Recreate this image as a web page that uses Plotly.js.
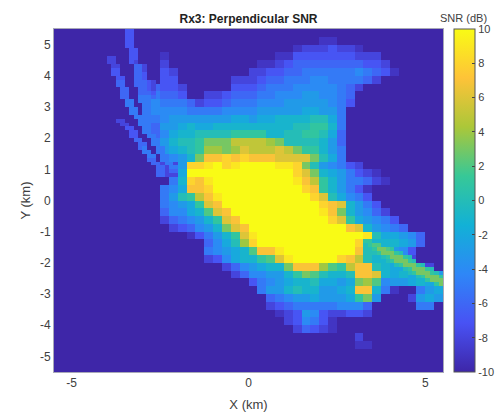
<!DOCTYPE html>
<html><head><meta charset="utf-8">
<script src="https://cdn.plot.ly/plotly-3.0.1.min.js"></script>
<style>html,body{margin:0;padding:0;background:#fff}</style></head>
<body><div id="g" style="width:500px;height:416px"></div>
<script>
const gridStep = 0.125, gridMin = -5.5, gridCount = 88, floorSNR = -10;
// Coarse blocks (2x2 fine cells): [row from top, first column, SNR values in dB]
const blockPatches = [
[1,30,[-9,-9]],
[2,27,[-9,-8,-8,-8,-7,-8,-8,-9]],
[3,12,[-9]],[3,25,[-9,-9,-7,-7,-7,-7,-7,-7,-7,-8,-8,-8]],
[4,12,[-8]],[4,23,[-9,-9,-8,-7,-6,-6,-6,-6,-6,-6,-6,-6,-7,-7,-8]],
[5,12,[-7,-8]],[5,22,[-8,-8,-7,-7,-6,-6,-5,-5,-5,-5,-5,-5,-4,-5,-6,-7,-9]],
[6,12,[-7,-7]],[6,20,[-8,-8,-8,-7,-6,-6,-5,-5,-5,-4,-4,-5,-5,-5,-5,-6,-8]],
[7,11,[-6,-7,-7,-8]],[7,20,[-7,-7,-7,-6,-5,-5,-5,-4,-4,-4,-4,-4,-5,-6,-8]],
[8,10,[-5,-5,-6,-6,-7]],[8,17,[-8,-8,-7,-6,-6,-6,-5,-5,-4,-4,-4,-3,-3,-4,-4,-5,-6]],
[9,10,[-5,-4,-5,-5,-5,-6,-8,-7,-7,-6,-5,-5,-5,-4,-4,-4,-3,-3,-3,-3,-3,-4,-5,-7]],
[10,11,[-4,-4,-4,-4,-5,-5,-5,-5,-4,-4,-4,-4,-3,-3,-3,-3,-3,-2,-2,-3,-3,-5]],
[11,11,[-5,-4,-3,-3,-3,-3,-3,-3,-3,-2,-2,-3,-2,-2,-1,-1,-1,-1,0,0,-2,-5]],
[12,11,[-6,-3,-3,-2,-1,-2,-2,-1,-1,-1,-1,-1,-1,-1,-1,-1,0,0,1,1,-1,-5]],
[13,11,[-6,-4,-2,-1,-1,0,0,0,0,1,1,1,1,-1,-1,0,0,1,1,0,-2,-6]],
[14,11,[-4,-3,-1,0,0,1,3,3,3,5,5,5,5,4,3,0,0,0,0,-1,-3,-6]],
[15,12,[-3,-2,-1,0,1,4,4,3,4,6,5,5,5,6,5,3,1,1,-1,-3,-5]],
[16,13,[-4,-3,-1,3,7,7,8,7,8,7,7,7,6,6,6,6,3,0,-2,-5]],
[17,12,[-8,-8,-3,8,8,9,10,8,9,10,10,10,10,9,9,8,3,0,-3,-4,-5,-7,-8]],
[18,12,[-8,-8,-2,10,10,10,10,10,10,10,10,10,10,10,10,8,6,3,-1,-2,-3,-5,-7,-8,-9]],
[19,13,[-5,-1,8,7,9,10,10,10,10,10,10,10,10,10,9,7,5,1,-1,-3,-5,-5,-6,-8,-9]],
[20,12,[-5,-4,-2,7,7,8,10,10,10,10,10,10,10,10,10,10,8,7,1,-1,-3,-5,-7,-9]],
[21,12,[-5,-3,0,1,5,7,9,10,10,10,10,10,10,10,10,10,10,8,6,0,-2,-4,-5,-7]],
[22,12,[-5,-4,-3,-2,1,6,7,10,10,10,10,10,10,10,10,10,10,10,8,7,6,-1,-3,-5,-7]],
[23,12,[-6,-4,-4,-2,-1,2,6,7,10,10,10,10,10,10,10,10,10,10,9,7,3,-1,-3,-4,-6,-8]],
[24,12,[-8,-6,-5,-4,-3,-1,1,6,7,10,10,10,10,10,10,10,10,10,10,8,6,1,-2,-3,-4,-5,-7]],
[25,13,[-8,-7,-6,-4,-3,-1,3,6,7,10,10,10,10,10,10,10,10,10,10,10,7,6,-1,-3,-4,-5,-6]],
[26,15,[-9,-7,-5,-3,-1,1,6,9,10,10,10,10,10,10,10,10,10,10,10,10,9,0,-2,-2,-3,-4,-6]],
[27,17,[-6,-4,-2,0,4,8,10,10,10,10,10,10,10,10,10,10,10,8,1,-1,-1,-1,-2,-3,-6]],
[28,17,[-5,-4,-3,-2,-1,2,7,7,9,10,10,10,10,10,10,10,10,7,0,-1,-2,-3,-4,-7]],
[29,17,[-8,-7,-4,-2,-1,-1,1,2,6,9,10,10,10,10,10,8,7,5,0,-1,-1,-2,-6,-8]],
[30,19,[-8,-6,-4,-3,-2,-1,-1,3,7,7,7,4,2,1,5,7,7,0,-1,-2,-2,-3,-4,-8]],
[31,20,[-8,-6,-4,-4,-3,-3,-1,1,3,2,0,-1,-1,0,7,7,6,-1,-2,-1,-2,-1,-3,-3]],
[32,22,[-7,-5,-4,-3,-2,-1,-1,0,-2,-2,-3,-2,3,4,2,-4,-3,-3,-2,-1,-2,-2]],
[33,23,[-5,-3,-3,-1,0,-1,-1,-3,-3,-2,-1,7,7,-1,-5,-9]],[33,41,[-5,-3,-2]],
[34,24,[-6,-5,-4,-3,-3,-2,-3,-3,-3,-2,1,3,-3]],[34,40,[-8,-3,-2,-3]],
[35,24,[-8,-7,-6,-5,-5,-5,-5,-5,-4,-4,-4,-6]],[35,41,[-5,-5]],
[36,25,[-9,-8,-7,-3,-4,-7,-8,-8,-7,-7,-8]],
[37,26,[-8,-7,-4,-5,-7,-9]],
[38,27,[-8,-6,-7,-8,-9]],
[39,34,[-8]],
[40,34,[-9,-9]]
];
// Thin arcs on the fine grid: [row, first column, SNR values in dB]
const arcInner = [
[0,16,[-7,-7]],[1,16,[-7,-7]],[2,16,[-7,-7]],[3,16,[-7,-7]],[4,16,[-7,-7]],
[5,17,[-7,-7]],[6,17,[-7,-7]],[7,17,[-7,-7]],[8,17,[-7,-8]],
[9,18,[-6,-6,-8]],[10,18,[-6,-6,-8]],[11,18,[-6,-6,-7]],[12,18,[-6,-6,-7]],
[13,18,[-6,-6,-6,-7,-8]],[14,18,[-6,-6,-6,-7,-8]],[15,19,[-6,-6,-7,-8]],[16,19,[-6,-6,-6,-7]],
[17,19,[-5,-5,-5,-6]],[18,19,[-5,-5,-5]],[19,20,[-5,-5]],[20,20,[-5,-5]],[21,20,[-5,-5]],[22,20,[-5,-5]],
[23,21,[-5]],[24,21,[-5]],[25,21,[-5]],[26,21,[-5]]
];
const arcOuter = [
[7,12,[-8,-8]],[8,12,[-8,-8]],[9,13,[-8,-8]],[10,13,[-7,-7]],[11,13,[-7,-7]],[12,14,[-7,-7]],[13,14,[-6,-6]],
[14,14,[-6,-6]],[15,15,[-6,-6]],[16,15,[-6,-6]],[17,15,[-6,-6]],[18,16,[-5,-5]],[19,16,[-5,-5]],[20,17,[-5,-5]],
[21,17,[-5,-5]],[22,18,[-5,-5]],[23,19,[-5,-5]],[24,19,[-5,-5]],[25,20,[-5,-5]],[26,20,[-5,-5]],[27,21,[-5,-5]],
[28,22,[-5,-5]],[29,22,[-5,-5]],[30,23,[-5,-5]],[31,23,[-5,-5]],[32,24,[-5,-5]],[33,24,[-5,-5]],[34,25,[-5,-5]],
[35,26,[-5,-5]],[36,26,[-6,-6]]
];
const arcThird = [
[23,14,[-8,-8]],[24,15,[-8,-8]],[25,16,[-7,-7]],[26,17,[-7,-7]],[27,17,[-7,-7]],[28,18,[-6,-6]],[29,19,[-6,-6]],
[30,19,[-6,-5]],[31,20,[-5,-5]],[32,21,[-5,-5]],[33,21,[-6,-6]],[34,22,[-6,-6]],[35,23,[-6,-6]],[36,23,[-6,-6]],[37,23,[-6,-6]]
];
const arcRight = [
[55,70,[0,1,2,2]],[56,71,[0,1,3,3,2,1]],[57,72,[0,1,3,3,3,1,0]],[58,74,[0,1,3,3,3,1,0]],[59,75,[0,1,3,3,3,1,0]],[60,77,[0,1,3,3,3,1,0]],
[61,79,[0,1,3,3,3,1,0]],[62,80,[0,1,3,3,3,1,0]],[63,82,[0,1,3,3,3,1]],[64,84,[1,3,3,3]],[65,86,[1,3]]
];
const xTicks = [-5,0,5], yTicks = [-5,-4,-3,-2,-1,0,1,2,3,4,5], cbTicks = [-10,-8,-6,-4,-2,0,2,4,6,8,10];
const axisCenters = Array.from({length:gridCount},(_,i)=>gridMin+gridStep*(i+0.5));
const yCenters = axisCenters.slice().reverse();
const z = yCenters.map(()=>axisCenters.map(()=>floorSNR));
blockPatches.forEach(([r,c,vals])=>vals.forEach((v,i)=>{
  z[2*r][2*(c+i)]=v; z[2*r][2*(c+i)+1]=v; z[2*r+1][2*(c+i)]=v; z[2*r+1][2*(c+i)+1]=v;
}));
[arcInner,arcOuter,arcThird,arcRight].forEach(a=>a.forEach(([r,c,vals])=>vals.forEach((v,i)=>{z[r][c+i]=v;})));
const parula = [[0,'rgb(62,38,168)'],[1/7,'rgb(72,82,244)'],[2/7,'rgb(46,135,247)'],[3/7,'rgb(18,177,214)'],[4/7,'rgb(55,200,151)'],[5/7,'rgb(171,199,57)'],[6/7,'rgb(254,195,56)'],[1,'rgb(249,251,21)']];
const FONT = '"Liberation Sans", Arial, sans-serif', INK = '#404040';
const mkAxis = (ticks,title,standoff)=>({
  range:[-5.5,5.5], tickmode:'array', tickvals:ticks, ticktext:ticks.map(String),
  ticks:'', showgrid:false, zeroline:false, showline:true, mirror:true, linecolor:'#a8a8b8', linewidth:1,
  tickfont:{family:FONT,size:12,color:INK}, title:{text:title,font:{family:FONT,size:13,color:INK},standoff:standoff}
});
Plotly.newPlot('g',[{type:'heatmap',x:axisCenters,y:yCenters,z:z,zmin:-10,zmax:10,zsmooth:false,colorscale:parula,
  colorbar:{x:1.0285,xanchor:'left',y:0.5,yanchor:'middle',len:1,lenmode:'fraction',thickness:21,thicknessmode:'pixels',xpad:0,ypad:0,
    outlinecolor:'#555',outlinewidth:1,ticks:'inside',ticklen:3,tickcolor:'#444',tickmode:'array',tickvals:cbTicks,ticktext:cbTicks.map(String),
    tickfont:{family:FONT,size:11,color:INK}}}],
 {width:500,height:416,margin:{l:54,r:57,t:29,b:44,autoexpand:false},paper_bgcolor:'#fff',plot_bgcolor:'rgb(62,38,168)',
  title:{text:'<b>Rx3: Perpendicular SNR</b>',font:{family:FONT,size:12,color:'#222'},x:0.497,xanchor:'center',y:0.955,yanchor:'middle'},
  xaxis:mkAxis(xTicks,'X (km)',10),yaxis:mkAxis(yTicks,'Y (km)',6),
  annotations:[{text:'SNR (dB)',xref:'paper',yref:'paper',x:1.0535,y:1.0,yshift:11,xanchor:'center',yanchor:'middle',showarrow:false,font:{family:FONT,size:11,color:INK}}]},
 {displayModeBar:false,staticPlot:true});
</script></body></html>
